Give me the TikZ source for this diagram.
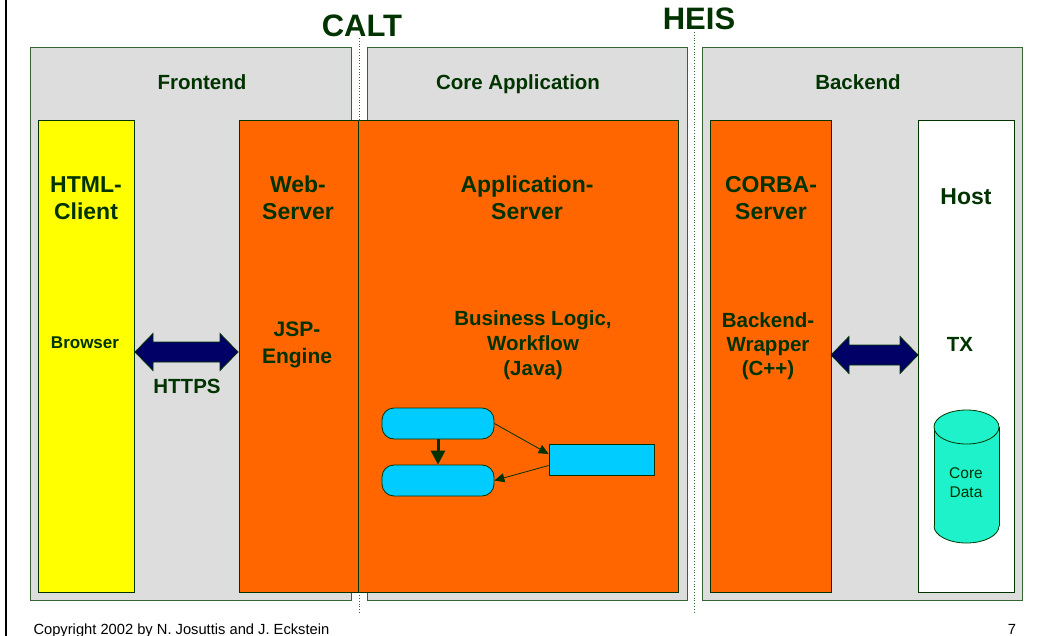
\documentclass[tikz,border=0pt]{standalone}
\usepackage{fontspec}
\setmainfont{Liberation Sans}
\usetikzlibrary{arrows.meta}

\definecolor{panelgrey}{HTML}{DDDDDD}
\definecolor{framegreen}{HTML}{336633}
\definecolor{textgreen}{HTML}{003300}
\definecolor{serverorange}{HTML}{FF6600}
\definecolor{clientyellow}{HTML}{FFFF00}
\definecolor{stepcyan}{HTML}{00CCFF}
\definecolor{dataaqua}{HTML}{1EF2CA}
\definecolor{pipenavy}{HTML}{000066}

\tikzset{
  panel/.style={draw=framegreen, line width=1pt, fill=panelgrey},
  tierbox/.style={draw=textgreen, line width=0.8pt},
  border/.style={framegreen, dotted, line width=0.8pt},
  pipe/.style={draw=textgreen, line width=0.8pt, fill=pipenavy},
  bigname/.style={text=textgreen, font=\bfseries\fontsize{31}{34}\selectfont},
  areaname/.style={text=textgreen, font=\bfseries\fontsize{20.5}{24}\selectfont},
  tiername/.style={text=textgreen, align=center, font=\bfseries\fontsize{23}{27}\selectfont},
  rolename/.style={text=textgreen, align=center, font=\bfseries\fontsize{20.5}{25}\selectfont},
  flowstep/.style={draw=textgreen, line width=0.8pt, fill=stepcyan, rounded corners=12,
    minimum width=112, minimum height=31, inner sep=0pt},
  flowtask/.style={draw=textgreen, line width=0.8pt, fill=stepcyan,
    minimum width=105, minimum height=31, inner sep=0pt},
  flowarrow/.style={textgreen, line width=0.8pt, -{Triangle[length=10pt,width=9pt]}},
  footer/.style={text=black, font=\fontsize{14.7}{17}\selectfont}
}

% double arrow: left x, right x, centre y
\newcommand{\dblpipe}[3]{%
  \filldraw[pipe] (#1,#3) -- ++(18,-18.5) -- ++(0,8.5) -- ({#2-18},{#3-10}) -- ++(0,-8.5)
    -- (#2,#3) -- ++(-18,18.5) -- ++(0,-8.5) -- ({#1+18},{#3+10}) -- ++(0,8.5) -- cycle;}

\begin{document}
\begin{tikzpicture}[x=1pt, y=-1pt]
  \useasboundingbox (0,0) rectangle (1043,636);
  \draw[line width=2pt] (6,0) -- (6,636);

  \draw[border] (359,38) -- (359,613);
  \draw[border] (694,32) -- (694,613);
  \node[bigname] (calt) at (362,26) {CALT};
  \node[bigname] (heis) at (699,19) {HEIS};

  \draw[panel] (30,48) rectangle (351,600);
  \draw[panel] (367,48) rectangle (687,600);
  \draw[panel] (702,48) rectangle (1022,600);
  \node[areaname] (frontend) at (202,82) {Frontend};
  \node[areaname] (core) at (518,84) {Core Application};
  \node[areaname] (backend) at (858,82) {Backend};

  \draw[tierbox, fill=clientyellow] (38,120) rectangle (134,592);
  \draw[tierbox, fill=serverorange] (239,120) rectangle (358,592);
  \draw[tierbox, fill=serverorange] (358,120) rectangle (678,592);
  \draw[tierbox, fill=serverorange] (710,120) rectangle (831,592);
  \draw[tierbox, fill=white] (918,120) rectangle (1014,592);

  \node[tiername] (client) at (86,198) {HTML-\\Client};
  \node[rolename, font=\bfseries\fontsize{17}{20}\selectfont] (browser) at (85,343) {Browser};
  \node[tiername] (web) at (298,198) {Web-\\Server};
  \node[rolename, font=\bfseries\fontsize{21}{27}\selectfont] (jsp) at (297,345) {JSP-\\Engine};
  \node[tiername] (appserver) at (527,198) {Application-\\Server};
  \node[rolename] (logic) at (533,345) {Business Logic,\\Workflow\\(Java)};
  \node[tiername] (corba) at (771,198) {CORBA-\\Server};
  \node[rolename, font=\bfseries\fontsize{20.5}{24}\selectfont] (wrapper) at (768,346) {Backend-\\Wrapper\\(C++)};
  \node[tiername] (host) at (966,197) {Host};
  \node[rolename] (tx) at (960,344) {TX};

  \dblpipe{135}{238}{352}
  \node[rolename] (https) at (187,386) {HTTPS};
  \dblpipe{831}{918}{355}

  % database
  \fill[dataaqua] (966.5,526) ellipse (32.5 and 17);
  \fill[dataaqua] (934,427) rectangle (999,526);
  \begin{scope}
    \clip (920,526) rectangle (1010,550);
    \draw[textgreen, line width=0.8pt] (966.5,526) ellipse (32.5 and 17);
  \end{scope}
  \draw[textgreen, line width=0.8pt] (934,427) -- (934,526) (999,427) -- (999,526);
  \filldraw[fill=dataaqua, draw=textgreen, line width=0.8pt] (966.5,427) ellipse (32.5 and 17);
  \node[text=textgreen, align=center, font=\fontsize{15.5}{19}\selectfont] (data) at (966,483) {Core\\Data};

  \node[flowstep] (stepa) at (438,423.5) {};
  \node[flowstep] (stepb) at (438,480.5) {};
  \node[flowtask] (stepc) at (601.5,459.5) {};
  \draw[textgreen, line width=3pt, -{Triangle[length=14pt,width=14pt]}] (stepa) -- (stepb);
  \draw[flowarrow] (stepa.east) -- ([yshift=5.5pt]stepc.west);
  \draw[flowarrow] ([yshift=-6pt]stepc.west) -- (stepb.east);

  \node[footer, anchor=base west] (copy) at (30,634) {Copyright 2002 by N. Josuttis and J. Eckstein};
  \node[footer, anchor=base] (page) at (1012,634) {7};
\end{tikzpicture}
\end{document}
